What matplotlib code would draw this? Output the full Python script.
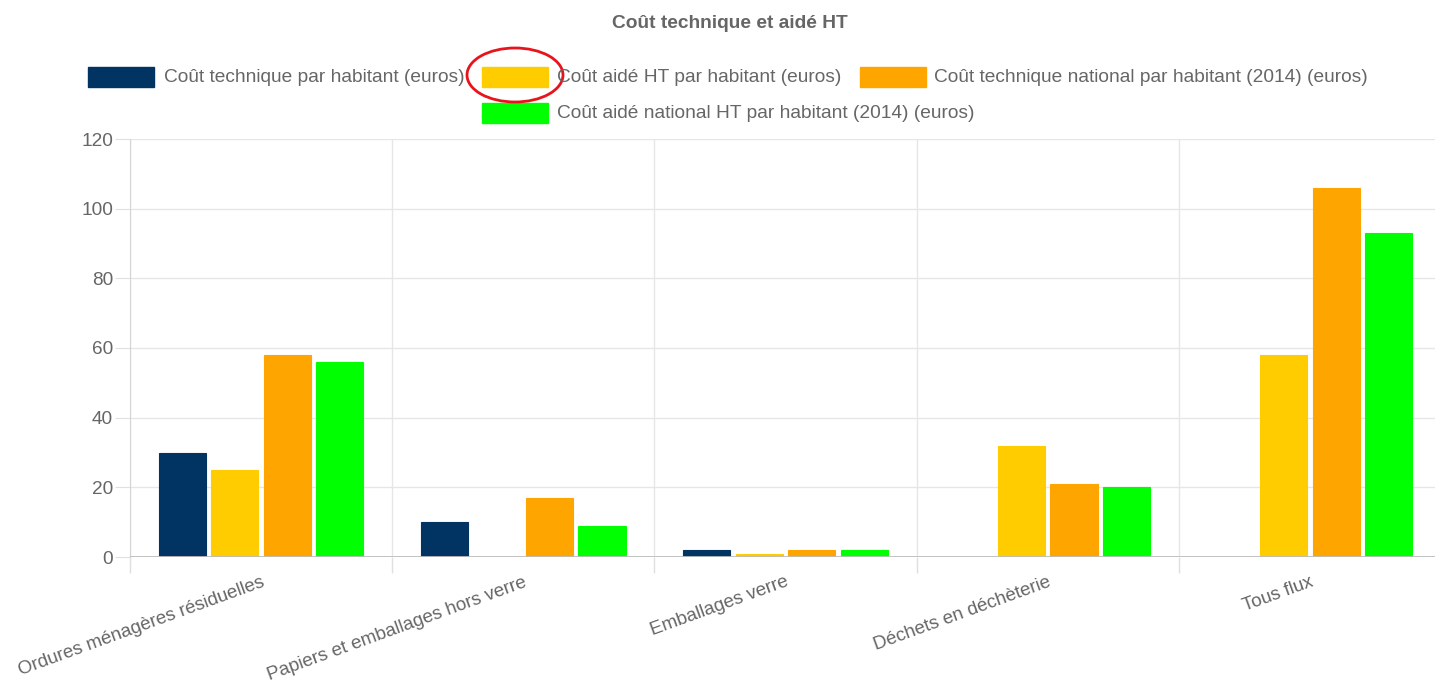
import matplotlib.pyplot as plt
from matplotlib.patches import Rectangle, Ellipse
import numpy as np

plt.rcParams['font.family'] = ['Liberation Sans', 'DejaVu Sans']

# data
categories = ["Ordures ménagères résiduelles", "Papiers et emballages hors verre",
              "Emballages verre", "Déchets en déchèterie", "Tous flux"]
series_names = ["Coût technique par habitant (euros)",
                "Coût aidé HT par habitant (euros)",
                "Coût technique national par habitant (2014) (euros)",
                "Coût aidé national HT par habitant (2014) (euros)"]
cout_technique = [30, 10, 2, np.nan, np.nan]
cout_aide = [25, 0, 1, 32, 58]
cout_technique_nat = [58, 17, 2, 21, 106]
cout_aide_nat = [56, 9, 2, 20, 93]
colors = ["#013463", "#ffcc00", "#ffa500", "#00ff00"]

W, H = 1435, 684
fig = plt.figure(figsize=(W / 100, H / 100), dpi=100)

def fx(px):
    return px / W

def fy(py):
    return 1 - py / H

ax = fig.add_axes([fx(130), fy(557), fx(1441) - fx(130), fy(139) - fy(557)])

x = np.arange(len(categories))
slot = 0.2
for i, vals in enumerate([cout_technique, cout_aide, cout_technique_nat, cout_aide_nat]):
    ax.bar(x + (i - 1.5) * slot, vals, width=0.18, color=colors[i],
           edgecolor=colors[i], linewidth=0.8, zorder=3)

ax.set_xlim(-0.5, 4.5)
ax.set_ylim(0, 120)
ax.set_yticks(range(0, 121, 20))
ax.set_xticks(np.arange(-0.5, 5, 1))
ax.set_xticklabels([])
ax.set_xticks(x, minor=True)
ax.set_xticklabels(categories, minor=True, rotation=20, ha='right',
                   rotation_mode='anchor', fontsize=13.5, color='#666666')
ax.tick_params(axis='x', which='minor', length=0, pad=12)
ax.tick_params(axis='x', which='major', length=11.5, color='#e0e0e0', width=1)
ax.tick_params(axis='y', length=11, color='#e0e0e0', labelsize=13.7,
               labelcolor='#666666', pad=1.3)
ax.grid(True, which='major', color='#e6e6e6', linewidth=1, zorder=0)
for s in ['top', 'right', 'bottom']:
    ax.spines[s].set_visible(False)
ax.spines['left'].set_color('#d5d5d5')
ax.axhline(0, color='#bdbdbd', linewidth=2, zorder=4)

# title
fig.text(fx(730), fy(23), "Coût technique et aidé HT", ha='center', va='center',
         fontsize=13.8, fontweight='bold', color='#666666')

# legend (two centered rows)
legend_items = [(88, 67, 164), (482, 67, 557), (860, 67, 934), (482, 103, 557)]
for (sx, sy, tx), name, c in zip(legend_items, series_names, colors):
    fig.add_artist(Rectangle((fx(sx), fy(sy + 20)), fx(66), 20 / H,
                             transform=fig.transFigure, color=c))
    fig.text(fx(tx), fy(sy + 10), name, ha='left', va='center',
             fontsize=13.8, color='#666666')

# red highlight circle around the second legend entry
fig.add_artist(Ellipse((fx(515), fy(75)), fx(96), 54 / H,
                       transform=fig.transFigure, fill=False,
                       edgecolor='#e8141b', linewidth=2))

fig.savefig("out.png", dpi=100)
